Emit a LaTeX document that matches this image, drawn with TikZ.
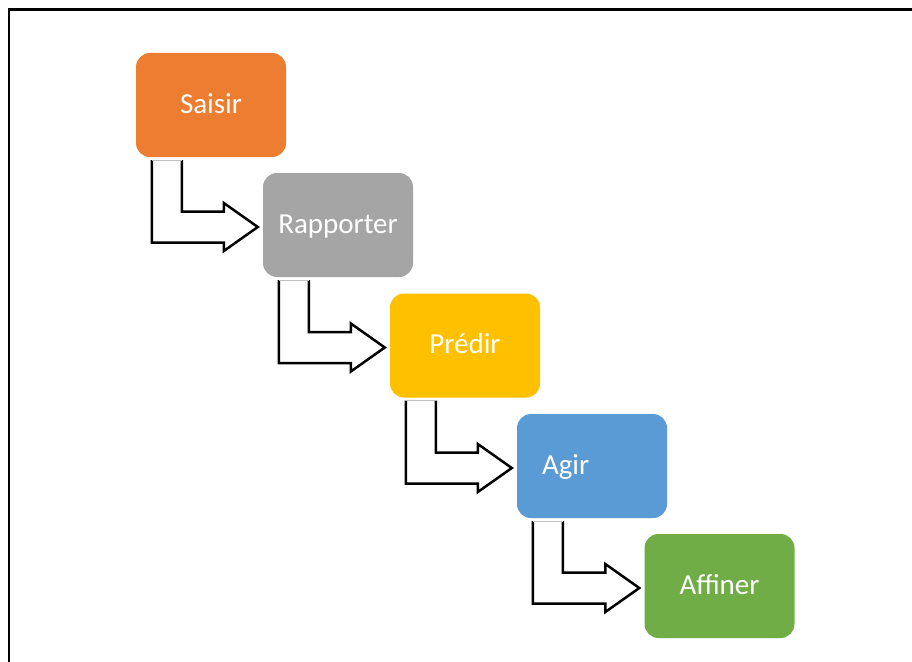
\documentclass[tikz,border=0pt]{standalone}
\usepackage{fontspec}
\setmainfont{Carlito}
\usetikzlibrary{calc}

\definecolor{cOrange}{HTML}{ED7D31}
\definecolor{cGray}{HTML}{A5A5A5}
\definecolor{cGold}{HTML}{FFC000}
\definecolor{cBlue}{HTML}{5B9BD5}
\definecolor{cGreen}{HTML}{70AD47}

\tikzset{
  stage/.style={rectangle, rounded corners=14pt, minimum width=150pt,
    minimum height=104pt, inner sep=0pt, text=white,
    text height=22pt, text depth=6pt,
    font=\fontsize{29}{34}\selectfont},
  flow/.style={draw=black, line width=2.5pt, fill=white, line join=miter},
  flowtop/.style={draw=black!25, line width=0.8pt},
  frame/.style={draw=black, line width=2.2pt}
}

% bent block arrow leaving the bottom of #1 and pointing at the left side of #2
\newcommand\bentflow[2]{%
  \coordinate (#1-o) at ($(#1.south west)+(16,3)$);
  \coordinate (#1-i) at ($(#1.south west)+(46,3)$);
  \coordinate (#1-t) at ($(#2.west)+(-5,2)$);
  \draw[flow] (#1-i) |- ($(#1-t)+(-34,-15.5)$) -- ($(#1-t)+(-34,-24)$)
    -- (#1-t) -- ($(#1-t)+(-34,24)$) -- ($(#1-t)+(-34,15.5)$) -| (#1-o);
  \draw[flowtop] (#1-o) -- (#1-i);
}

\begin{document}
\begin{tikzpicture}[x=1pt, y=-1pt]
  \useasboundingbox (0,0) rectangle (912,661);
  \clip (0,0) rectangle (912,661);
  \fill[white] (0,0) rectangle (912,661);

  % outer frame
  \draw[frame] (9,700) -- (9,9.5) -- (960,9.5);

  % process stages
  \node[stage, fill=cOrange] (saisir)    at (211,105)   {Saisir};
  \node[stage, fill=cGray]   (rapporter) at (338,225)   {Rapporter};
  \node[stage, fill=cGold]   (predir)    at (465,345.5) {Prédir};
  \node[stage, fill=cBlue, text width=100pt, align=left, inner xsep=25pt]
                             (agir)      at (592,466)   {Agir};
  \node[stage, fill=cGreen]  (affiner)   at (719.5,586) {Affiner};

  % bent arrows between stages
  \bentflow{saisir}{rapporter}
  \bentflow{rapporter}{predir}
  \bentflow{predir}{agir}
  \bentflow{agir}{affiner}
\end{tikzpicture}
\end{document}
